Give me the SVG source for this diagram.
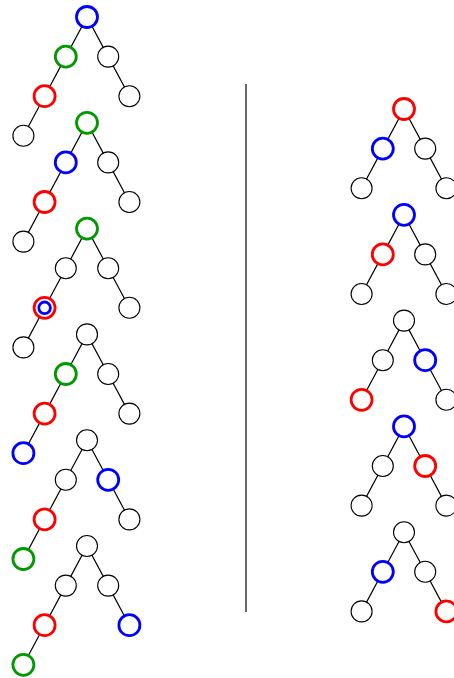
<svg xmlns="http://www.w3.org/2000/svg" width="454" height="678" viewBox="0 0 454 678">
<style>
.e{stroke:#000;stroke-width:1.2;fill:none}
circle{fill:#fff;stroke:#000;stroke-width:1.1}
.b{stroke:#0000ff;stroke-width:2.8}
.g{stroke:#009900;stroke-width:2.8}
.r{stroke:#ff0000;stroke-width:2.8}
</style>
<defs>
<g id="lt">
<path class="e" d="M0,0L-21.2,39.6L-42.4,79.2L-63.6,118.8M0,0L21.2,39.6L42.4,79.2"/>
</g>
<g id="rt">
<path class="e" d="M0,0L-21.2,39.6L-42.4,79.2M0,0L21.2,39.6L42.4,79.2"/>
</g>
</defs>
<g id="connectors">
<use href="#lt" x="87" y="17"/>
<use href="#lt" x="87" y="122.8"/>
<use href="#lt" x="87" y="228.6"/>
<use href="#lt" x="87" y="334.4"/>
<use href="#lt" x="87" y="440.2"/>
<use href="#lt" x="87" y="546"/>
<use href="#rt" x="404" y="109"/>
<use href="#rt" x="404" y="214.8"/>
<use href="#rt" x="404" y="320.6"/>
<use href="#rt" x="404" y="426.4"/>
<use href="#rt" x="404" y="532.2"/>
<line x1="246" y1="84" x2="246" y2="612" stroke="#000" stroke-width="1.2"/>
</g>
<g id="left1" transform="translate(87,17)">
<circle class="b" cx="0" cy="0" r="10.5"/>
<circle class="g" cx="-21.2" cy="39.6" r="10.5"/>
<circle cx="21.2" cy="39.6" r="10.5"/>
<circle class="r" cx="-42.4" cy="79.2" r="10.5"/>
<circle cx="42.4" cy="79.2" r="10.5"/>
<circle cx="-63.6" cy="118.8" r="10.5"/>
</g>
<g id="left2" transform="translate(87,122.8)">
<circle class="g" cx="0" cy="0" r="10.5"/>
<circle class="b" cx="-21.2" cy="39.6" r="10.5"/>
<circle cx="21.2" cy="39.6" r="10.5"/>
<circle class="r" cx="-42.4" cy="79.2" r="10.5"/>
<circle cx="42.4" cy="79.2" r="10.5"/>
<circle cx="-63.6" cy="118.8" r="10.5"/>
</g>
<g id="left3" transform="translate(87,228.6)">
<circle class="g" cx="0" cy="0" r="10.5"/>
<circle cx="-21.2" cy="39.6" r="10.5"/>
<circle cx="21.2" cy="39.6" r="10.5"/>
<circle class="r" cx="-42.4" cy="79.2" r="10.5"/>
<circle class="b" cx="-42.4" cy="79.2" r="5.8"/>
<circle cx="42.4" cy="79.2" r="10.5"/>
<circle cx="-63.6" cy="118.8" r="10.5"/>
</g>
<g id="left4" transform="translate(87,334.4)">
<circle cx="0" cy="0" r="10.5"/>
<circle class="g" cx="-21.2" cy="39.6" r="10.5"/>
<circle cx="21.2" cy="39.6" r="10.5"/>
<circle class="r" cx="-42.4" cy="79.2" r="10.5"/>
<circle cx="42.4" cy="79.2" r="10.5"/>
<circle class="b" cx="-63.6" cy="118.8" r="10.5"/>
</g>
<g id="left5" transform="translate(87,440.2)">
<circle cx="0" cy="0" r="10.5"/>
<circle cx="-21.2" cy="39.6" r="10.5"/>
<circle class="b" cx="21.2" cy="39.6" r="10.5"/>
<circle class="r" cx="-42.4" cy="79.2" r="10.5"/>
<circle cx="42.4" cy="79.2" r="10.5"/>
<circle class="g" cx="-63.6" cy="118.8" r="10.5"/>
</g>
<g id="left6" transform="translate(87,546)">
<circle cx="0" cy="0" r="10.5"/>
<circle cx="-21.2" cy="39.6" r="10.5"/>
<circle cx="21.2" cy="39.6" r="10.5"/>
<circle class="r" cx="-42.4" cy="79.2" r="10.5"/>
<circle class="b" cx="42.4" cy="79.2" r="10.5"/>
<circle class="g" cx="-63.6" cy="118.8" r="10.5"/>
</g>
<g id="right1" transform="translate(404,109)">
<circle class="r" cx="0" cy="0" r="10.5"/>
<circle class="b" cx="-21.2" cy="39.6" r="10.5"/>
<circle cx="21.2" cy="39.6" r="10.5"/>
<circle cx="-42.4" cy="79.2" r="10.5"/>
<circle cx="42.4" cy="79.2" r="10.5"/>
</g>
<g id="right2" transform="translate(404,214.8)">
<circle class="b" cx="0" cy="0" r="10.5"/>
<circle class="r" cx="-21.2" cy="39.6" r="10.5"/>
<circle cx="21.2" cy="39.6" r="10.5"/>
<circle cx="-42.4" cy="79.2" r="10.5"/>
<circle cx="42.4" cy="79.2" r="10.5"/>
</g>
<g id="right3" transform="translate(404,320.6)">
<circle cx="0" cy="0" r="10.5"/>
<circle cx="-21.2" cy="39.6" r="10.5"/>
<circle class="b" cx="21.2" cy="39.6" r="10.5"/>
<circle class="r" cx="-42.4" cy="79.2" r="10.5"/>
<circle cx="42.4" cy="79.2" r="10.5"/>
</g>
<g id="right4" transform="translate(404,426.4)">
<circle class="b" cx="0" cy="0" r="10.5"/>
<circle cx="-21.2" cy="39.6" r="10.5"/>
<circle class="r" cx="21.2" cy="39.6" r="10.5"/>
<circle cx="-42.4" cy="79.2" r="10.5"/>
<circle cx="42.4" cy="79.2" r="10.5"/>
</g>
<g id="right5" transform="translate(404,532.2)">
<circle cx="0" cy="0" r="10.5"/>
<circle class="b" cx="-21.2" cy="39.6" r="10.5"/>
<circle cx="21.2" cy="39.6" r="10.5"/>
<circle cx="-42.4" cy="79.2" r="10.5"/>
<circle class="r" cx="42.4" cy="79.2" r="10.5"/>
</g>
</svg>
